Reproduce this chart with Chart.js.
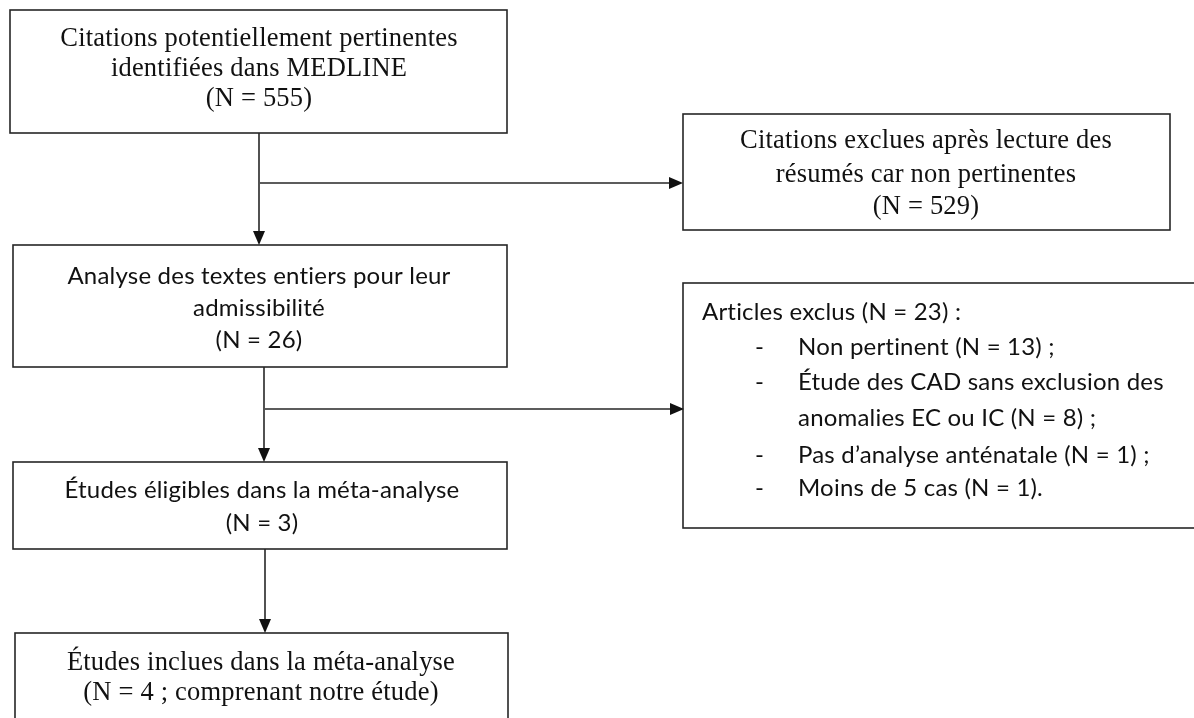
<!DOCTYPE html>
<html>
<head>
<meta charset="utf-8">
<script src="https://cdn.jsdelivr.net/npm/chart.js@4"></script>
<style>
  body { margin: 0; background: #fff; }
</style>
</head>
<body>
<canvas id="flow" width="1194" height="718"></canvas>
<script>
// flow stages (main column)
const stageTitles = [
  ["Citations potentiellement pertinentes", "identifiées dans MEDLINE"],
  ["Analyse des textes entiers pour leur", "admissibilité"],
  ["Études éligibles dans la méta-analyse"],
  ["Études inclues dans la méta-analyse"],
];
const stageCounts = [555, 26, 3, 4];
const stageNotes = ["", "", "", " ; comprenant notre étude"];

// exclusions (right column)
const excludedTitles = [
  ["Citations exclues après lecture des", "résumés car non pertinentes"],
  ["Articles exclus"],
];
const excludedCounts = [529, 23];

const reasonLabels = [
  ["Non pertinent"],
  ["Étude des CAD sans exclusion des", "anomalies EC ou IC"],
  ["Pas d’analyse anténatale"],
  ["Moins de 5 cas"],
];
const reasonCounts = [13, 8, 1, 1];

// page layout, in pixels of the 1194x718 picture
const SERIF = "'Liberation Serif', 'Times New Roman', serif";
const SANS = "Lato, 'Open Sans', sans-serif";
const layout = {
  stages: [
    { box: [10, 10, 507, 133], cx: 259, y: [39, 69, 99], font: "26.5px " + SERIF },
    { box: [13, 245, 507, 367], cx: 259, y: [276, 308, 340], font: "24px " + SANS },
    { box: [13, 462, 507, 549], cx: 262, y: [490, 523], font: "24px " + SANS },
    { box: [15, 633, 508, 740], cx: 261, y: [663, 693], font: "26.5px " + SERIF },
  ],
  excluded: [
    { box: [683, 114, 1170, 230], cx: 926, y: [141, 175, 207], font: "26.5px " + SERIF },
    { box: [683, 283, 1210, 528], left: 702, y: [312], font: "24px " + SANS,
      dashX: 755, textX: 798, reasonY: [347, 382, 418, 455, 488] },
  ],
  down: [[259, 133, 245], [264, 367, 462], [265, 549, 633]],
  side: [[260, 183, 683], [265, 409, 684]],
};

function stageLines(i) {
  return stageTitles[i].concat(["(N = " + stageCounts[i] + stageNotes[i] + ")"]);
}

const flowPlugin = {
  id: "flow",
  afterDraw(chart) {
    const ctx = chart.ctx;
    const sx = chart.scales.x, sy = chart.scales.y;
    const px = (v) => sx.getPixelForValue(v);
    const py = (v) => sy.getPixelForValue(v);

    ctx.save();
    ctx.strokeStyle = "#262626";
    ctx.fillStyle = "#111";
    ctx.lineWidth = 1.6;
    // a tiny spacing keeps the "ti" pairs from joining into ligatures
    ctx.letterSpacing = "0.2px";

    function rect(b) {
      ctx.strokeRect(px(b[0]), py(b[1]), px(b[2]) - px(b[0]), py(b[3]) - py(b[1]));
    }
    function head(x, y, dir) {
      ctx.beginPath();
      if (dir === "down") {
        ctx.moveTo(px(x), py(y));
        ctx.lineTo(px(x) - 6, py(y) - 14);
        ctx.lineTo(px(x) + 6, py(y) - 14);
      } else {
        ctx.moveTo(px(x), py(y));
        ctx.lineTo(px(x) - 14, py(y) - 6);
        ctx.lineTo(px(x) - 14, py(y) + 6);
      }
      ctx.closePath();
      ctx.fill();
    }

    // main column
    layout.stages.forEach((s, i) => {
      rect(s.box);
      ctx.font = s.font;
      ctx.textAlign = "center";
      ctx.textBaseline = "middle";
      stageLines(i).forEach((t, k) => ctx.fillText(t, px(s.cx), py(s.y[k])));
    });

    // first exclusion box
    const e0 = layout.excluded[0];
    rect(e0.box);
    ctx.font = e0.font;
    excludedTitles[0].concat(["(N = " + excludedCounts[0] + ")"])
      .forEach((t, k) => ctx.fillText(t, px(e0.cx), py(e0.y[k])));

    // second exclusion box with reasons
    const e1 = layout.excluded[1];
    rect(e1.box);
    ctx.font = e1.font;
    ctx.textAlign = "left";
    ctx.fillText(excludedTitles[1][0] + " (N = " + excludedCounts[1] + ") :", px(e1.left), py(e1.y[0]));
    let row = 0;
    reasonLabels.forEach((lab, i) => {
      const last = i === reasonLabels.length - 1;
      const tail = " (N = " + reasonCounts[i] + ")" + (last ? "." : " ;");
      ctx.fillText("-", px(e1.dashX), py(e1.reasonY[row]));
      lab.forEach((t, k) => {
        const txt = k === lab.length - 1 ? t + tail : t;
        ctx.fillText(txt, px(e1.textX), py(e1.reasonY[row]));
        row++;
      });
    });

    // connectors
    layout.down.forEach(([x, y0, y1]) => {
      ctx.beginPath();
      ctx.moveTo(px(x), py(y0));
      ctx.lineTo(px(x), py(y1) - 12);
      ctx.stroke();
      head(x, y1, "down");
    });
    layout.side.forEach(([x0, y, x1]) => {
      ctx.beginPath();
      ctx.moveTo(px(x0), py(y));
      ctx.lineTo(px(x1) - 12, py(y));
      ctx.stroke();
      head(x1, y, "right");
    });
    ctx.restore();
  },
};

new Chart(document.getElementById("flow"), {
  type: "scatter",
  data: { datasets: [{ data: [] }] },
  options: {
    responsive: false,
    animation: false,
    events: [],
    layout: { padding: 0 },
    plugins: { legend: { display: false }, tooltip: { enabled: false } },
    scales: {
      x: { type: "linear", min: 0, max: 1194, display: false },
      y: { type: "linear", min: 0, max: 718, reverse: true, display: false },
    },
  },
  plugins: [flowPlugin],
});
</script>
</body>
</html>
